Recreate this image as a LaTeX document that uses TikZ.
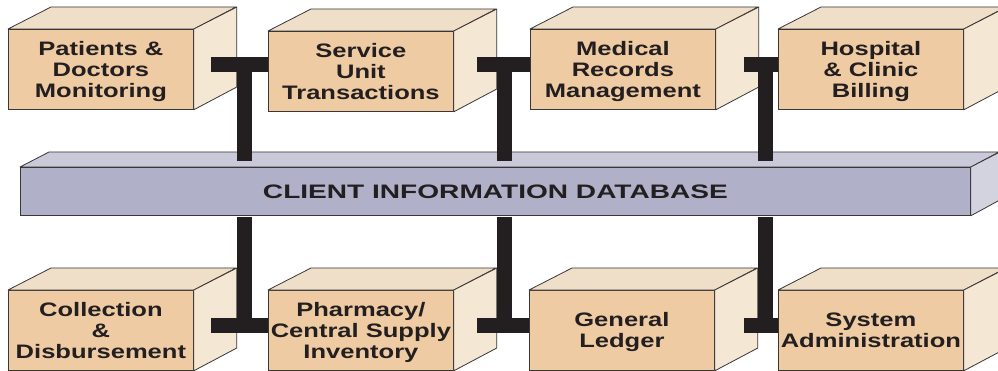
\documentclass[tikz,border=0pt]{standalone}
\usepackage{fontspec}
\setmainfont{Liberation Sans}[FakeStretch=1.31]
\newfontfamily\dbfont{Liberation Sans}[FakeStretch=1.44]
\usetikzlibrary{calc}
\definecolor{boxfront}{HTML}{EECBA3}
\definecolor{boxtop}{HTML}{F0DFC8}
\definecolor{boxright}{HTML}{F4E8D4}
\definecolor{dbfront}{HTML}{B0B0C8}
\definecolor{dbtop}{HTML}{C9C9D9}
\definecolor{dbright}{HTML}{D3D3DF}
\definecolor{edge}{HTML}{3A3636}
\definecolor{ink}{HTML}{231F20}
\tikzset{
  boxface/.style={draw=edge, line width=0.8pt, fill=boxfront, inner sep=0pt,
    minimum width=185pt, minimum height=80pt, anchor=north west, align=center,
    text depth=0pt, text=ink, font=\bfseries\fontsize{19.5}{21}\selectfont},
  dbface/.style={draw=edge, line width=0.8pt, fill=dbfront, inner sep=0pt,
    minimum width=950pt, minimum height=48pt, anchor=north west,
    text=ink, font=\dbfont\bfseries\fontsize{19.5}{21}\selectfont},
  sideface/.style={draw=edge, line width=0.8pt, line join=round},
  bar/.style={draw=ink, line width=15pt}
}
\newcommand{\cuboid}[4]{% name, x, y, text
  \node[boxface] (#1) at (#2,#3) {#4};
  \draw[sideface, fill=boxtop] (#1.north west) -- ++(43,-22) -- ++(185,0) -- (#1.north east) -- cycle;
  \draw[sideface, fill=boxright] (#1.north east) -- ++(43,-22) -- ++(0,80) -- (#1.south east) -- cycle;
}
\begin{document}
\begin{tikzpicture}[x=1pt, y=-1pt]
\useasboundingbox (0,0) rectangle (998,371);
\fill[white] (0,0) rectangle (998,371);
% database
\node[dbface] (db) at (20,167) {CLIENT INFORMATION DATABASE};
\draw[sideface, fill=dbtop] (db.north west) -- ++(29,-15) -- ++(950,0) -- (db.north east) -- cycle;
\draw[sideface, fill=dbright] (db.north east) -- ++(29,-15) -- ++(0,48) -- (db.south east) -- cycle;
% top row
\cuboid{t1}{8}{29}{Patients \&\\Doctors\\Monitoring}
\cuboid{t2}{268}{31}{Service\\Unit\\Transactions}
\cuboid{t3}{530}{29}{Medical\\Records\\Management}
\cuboid{t4}{778}{29}{Hospital\\\& Clinic\\Billing}
% bottom row
\cuboid{b1}{8}{290}{Collection\\\&\\Disbursement}
\cuboid{b2}{268}{290}{Pharmacy/\\Central Supply\\Inventory}
\cuboid{b3}{529}{290}{General\\Ledger}
\cuboid{b4}{778}{290}{System\\Administration}
% connector coordinates
\coordinate (h1) at (211,64.5);
\coordinate (h2) at (477,64.5);
\coordinate (h3) at (744,64.5);
\coordinate (v1) at (244.5,64.5);
\coordinate (v2) at (504.5,64.5);
\coordinate (v3) at (765.5,64.5);
\coordinate (g1) at (211,325);
\coordinate (g2) at (477,325);
\coordinate (g3) at (744,325);
% top T connectors
\draw[bar] (h1) -- (h1 -| t2.west);
\draw[bar] (h2) -- (h2 -| t3.west);
\draw[bar] (h3) -- (h3 -| t4.west);
\draw[bar] (v1) -- ($(v1 |- db.north)+(0,-6)$);
\draw[bar] (v2) -- ($(v2 |- db.north)+(0,-6)$);
\draw[bar] (v3) -- ($(v3 |- db.north)+(0,-6)$);
% bottom T connectors
\draw[bar] (g1) -- (g1 -| b2.west);
\draw[bar] (g2) -- (g2 -| b3.west);
\draw[bar] (g3) -- (g3 -| b4.west);
\draw[bar] ($(v1 |- db.south)+(0,1)$) -- (v1 |- g1);
\draw[bar] ($(v2 |- db.south)+(0,1)$) -- (v2 |- g2);
\draw[bar] ($(v3 |- db.south)+(0,1)$) -- (v3 |- g3);
\end{tikzpicture}
\end{document}
